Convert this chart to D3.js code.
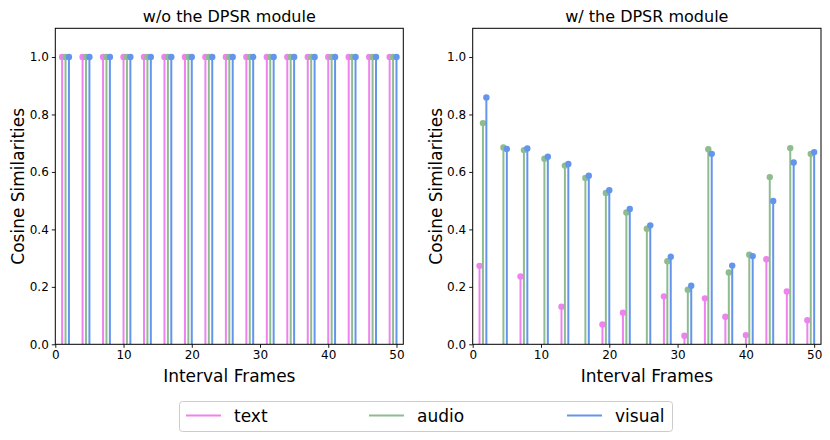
<!DOCTYPE html>
<html lang="en">
<head>
<meta charset="UTF-8">
<title>Cosine Similarities</title>
<style>
  body { margin: 0; background: #fff; }
  svg { font-family: "DejaVu Sans", sans-serif; }
</style>
</head>
<body>
<svg width="830" height="440"></svg>
<script src="https://d3js.org/d3.v7.min.js"></script>
<script>
// interval frames (x positions of each group)
var frames = [1, 4, 7, 10, 13, 16, 19, 22, 25, 28, 31, 34, 37, 40, 43, 46, 49];
var xTicks = [0, 10, 20, 30, 40, 50];
var yTicks = [0.0, 0.2, 0.4, 0.6, 0.8, 1.0];
var seriesNames = ["text", "audio", "visual"];
var seriesColors = ["violet", "darkseagreen", "cornflowerblue"];
var seriesShift = [0, 0.5, 1];

// w/o the DPSR module
var textNo   = [1, 1, 1, 1, 1, 1, 1, 1, 1, 1, 1, 1, 1, 1, 1, 1, 1];
var audioNo  = [1, 1, 1, 1, 1, 1, 1, 1, 1, 1, 1, 1, 1, 1, 1, 1, 1];
var visualNo = [1, 1, 1, 1, 1, 1, 1, 1, 1, 1, 1, 1, 1, 1, 1, 1, 1];

// w/ the DPSR module
var textW   = [0.273, -0.012, 0.236, -0.012, 0.131, -0.012, 0.069, 0.110, -0.012, 0.167, 0.030, 0.160, 0.096, 0.032, 0.296, 0.184, 0.084];
var audioW  = [0.770, 0.685, 0.676, 0.646, 0.622, 0.579, 0.527, 0.459, 0.402, 0.289, 0.190, 0.679, 0.250, 0.312, 0.582, 0.683, 0.663];
var visualW = [0.859, 0.680, 0.682, 0.653, 0.628, 0.587, 0.536, 0.471, 0.414, 0.305, 0.204, 0.663, 0.274, 0.307, 0.499, 0.633, 0.669];

var svg = d3.select("svg");
var top_ = 28.3, bottom = 344.3;

var panels = [
  { title: "w/o the DPSR module", left: 55.3, right: 403.3, data: [textNo, audioNo, visualNo] },
  { title: "w/ the DPSR module", left: 472.7, right: 821, data: [textW, audioW, visualW] }
];

panels.forEach(function(p, pi) {
  var x = d3.scaleLinear().domain([0, 51]).range([p.left, p.right]);
  var y = d3.scaleLinear().domain([0, 1.1]).range([bottom, top_]);
  var g = svg.append("g");

  g.append("clipPath").attr("id", "clip" + pi)
    .append("rect")
    .attr("x", p.left).attr("y", top_)
    .attr("width", p.right - p.left).attr("height", bottom - top_);

  var marks = g.append("g").attr("clip-path", "url(#clip" + pi + ")");

  p.data.forEach(function(vals, si) {
    var s = marks.append("g");
    s.selectAll("line").data(vals).enter().append("line")
      .attr("x1", function(d, i) { return x(frames[i] + seriesShift[si]); })
      .attr("x2", function(d, i) { return x(frames[i] + seriesShift[si]); })
      .attr("y1", y(0))
      .attr("y2", function(d) { return y(d); })
      .attr("stroke", seriesColors[si])
      .attr("stroke-width", 2);
    s.selectAll("circle").data(vals).enter().append("circle")
      .attr("cx", function(d, i) { return x(frames[i] + seriesShift[si]); })
      .attr("cy", function(d) { return y(d); })
      .attr("r", 3.2)
      .attr("fill", seriesColors[si]);
  });

  // axes
  var xAxis = d3.axisBottom(x).tickValues(xTicks).tickSize(3.5).tickPadding(3).tickFormat(d3.format("d"));
  var yAxis = d3.axisLeft(y).tickValues(yTicks).tickSize(3.5).tickPadding(3).tickFormat(d3.format(".1f"));

  var gx = g.append("g").attr("transform", "translate(0," + bottom + ")").call(xAxis);
  var gy = g.append("g").attr("transform", "translate(" + p.left + ",0)").call(yAxis);
  [gx, gy].forEach(function(a) {
    a.select(".domain").remove();
    a.selectAll("text").attr("font-size", 12).attr("font-family", "DejaVu Sans").attr("fill", "#000");
    a.selectAll("line").attr("stroke", "#000").attr("stroke-width", 0.9);
  });

  g.append("rect")
    .attr("x", p.left).attr("y", top_)
    .attr("width", p.right - p.left).attr("height", bottom - top_)
    .attr("fill", "none").attr("stroke", "#000").attr("stroke-width", 1);

  var cx = (p.left + p.right) / 2;
  g.append("text").attr("x", cx).attr("y", 21.5)
    .attr("text-anchor", "middle").attr("font-size", 16).text(p.title);
  g.append("text").attr("x", cx).attr("y", 382)
    .attr("text-anchor", "middle").attr("font-size", 17).text("Interval Frames");
  g.append("text")
    .attr("transform", "translate(" + (p.left - 31) + "," + ((top_ + bottom) / 2) + ") rotate(-90)")
    .attr("text-anchor", "middle").attr("font-size", 17).text("Cosine Similarities");
});

// legend
var lg = svg.append("g");
lg.append("rect")
  .attr("x", 179.5).attr("y", 401.5).attr("width", 493).attr("height", 30)
  .attr("rx", 3).attr("fill", "#fff").attr("stroke", "#ccc").attr("stroke-width", 1);
var legendX = [186, 369, 567];
seriesNames.forEach(function(n, i) {
  lg.append("line")
    .attr("x1", legendX[i]).attr("x2", legendX[i] + 35)
    .attr("y1", 415.5).attr("y2", 415.5)
    .attr("stroke", seriesColors[i]).attr("stroke-width", 2);
  lg.append("text")
    .attr("x", legendX[i] + 48).attr("y", 421.5)
    .attr("font-size", 17).text(n);
});
</script>
</body>
</html>
